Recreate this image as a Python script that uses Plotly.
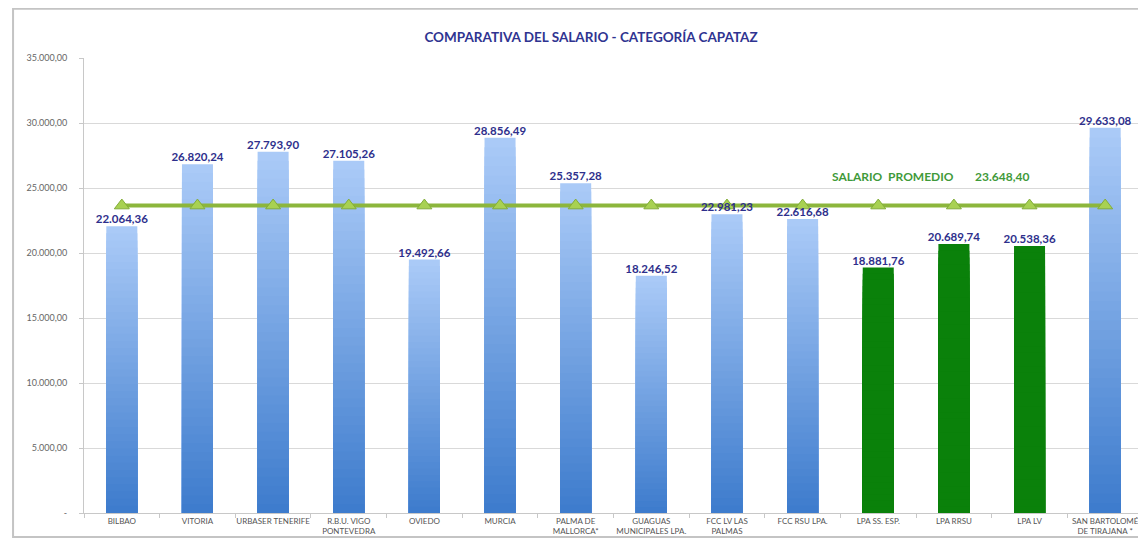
import plotly.graph_objects as go

## Data
categorias = ["BILBAO", "VITORIA", "URBASER TENERIFE", "R.B.U. VIGO<br>PONTEVEDRA", "OVIEDO",
              "MURCIA", "PALMA DE<br>MALLORCA*", "GUAGUAS<br>MUNICIPALES LPA.", "FCC LV LAS<br>PALMAS",
              "FCC RSU LPA.", "LPA SS. ESP.", "LPA RRSU", "LPA LV", "SAN BARTOLOMÉ<br>DE TIRAJANA *"]
salarios = [22064.36, 26820.24, 27793.90, 27105.26, 19492.66, 28856.49, 25357.28,
            18246.52, 22981.23, 22616.68, 18881.76, 20689.74, 20538.36, 29633.08]
destacadas = ["LPA SS. ESP.", "LPA RRSU", "LPA LV"]
promedio = 23648.40
y_ticks = [0, 5000, 10000, 15000, 20000, 25000, 30000, 35000]


def fmt(v):
    # Spanish number format: 23.648,40
    s = f"{v:,.2f}"
    return s.replace(",", "X").replace(".", ",").replace("X", ".")


def mezcla(c1, c2, t):
    r = [round(a + (b - a) * t) for a, b in zip(c1, c2)]
    return f"rgb({r[0]},{r[1]},{r[2]})"


claro = (170, 202, 247)
oscuro = (62, 124, 205)
verde = "#0a810a"

fig = go.Figure()

# gradient bars: overlaid layers, lighter at the top, darker towards the base
N = 40
for k in range(N):
    frac = (N - k) / N
    col = mezcla(claro, oscuro, k / (N - 1))
    colores = [verde if c in destacadas else col for c in categorias]
    fig.add_trace(go.Bar(
        x=categorias, y=[v * frac for v in salarios],
        marker=dict(color=colores, line=dict(width=0)),
        width=0.41, hoverinfo="skip" if k else "y", showlegend=False
    ))

# average line
fig.add_trace(go.Scatter(
    x=categorias, y=[promedio] * len(categorias), mode="lines+markers",
    line=dict(color="#8cb63c", width=4),
    marker=dict(symbol="triangle-up", size=13, color="#a8d152", line=dict(color="#82ad3a", width=1)),
    showlegend=False
))

# value labels above bars (drawn over the line)
fig.add_trace(go.Scatter(
    x=categorias, y=salarios, mode="text", text=[fmt(v) for v in salarios],
    textposition="top center", textfont=dict(family="Lato", size=11.5, color="#2e2f8c", weight="bold"),
    showlegend=False, hoverinfo="skip"
))

fig.add_annotation(x=10.2, y=25850, text="SALARIO  PROMEDIO", showarrow=False,
                   font=dict(family="Lato", size=12, color="#3f9a3a", weight="bold"))
fig.add_annotation(x=11.64, y=25870, text=fmt(promedio), showarrow=False,
                   font=dict(family="Lato", size=12, color="#3f9a3a", weight="bold"))

# frame around the chart
fig.add_shape(type="rect", xref="paper", yref="paper", x0=-0.067, x1=1.08, y0=-0.053, y1=1.108,
              line=dict(color="#c4c4c4", width=2), layer="below")

# the page body adds an 8px offset, so the figure is a bit smaller and margins compensate
W, H = 1138, 530
fig.update_layout(
    title=dict(text="COMPARATIVA DEL SALARIO - CATEGORÍA CAPATAZ", x=583 / W, xanchor="center",
               y=1 - 29 / H, yanchor="middle",
               font=dict(family="Lato", size=13.5, color="#2f3491", weight="bold")),
    barmode="overlay",
    width=W, height=H,
    margin=dict(l=76, r=3, t=50, b=H - 505, autoexpand=False),
    paper_bgcolor="white", plot_bgcolor="white",
    xaxis=dict(range=[-0.5, len(categorias) - 0.5],
               tickfont=dict(family="Lato", size=8, color="#555555"), showline=True,
               linecolor="#c8c8c8", ticks="outside", tickson="boundaries", tickcolor="#c8c8c8",
               ticklen=4, showgrid=False, tickangle=0, automargin=False),
    yaxis=dict(range=[0, 35000], tickvals=y_ticks,
               ticktext=["-" if v == 0 else fmt(v) for v in y_ticks],
               tickfont=dict(family="Lato", size=9, color="#666666"), showgrid=True,
               gridcolor="#d9d9d9", gridwidth=1, showline=True, linecolor="#c8c8c8",
               ticks="outside", tickcolor="#c8c8c8", ticklen=4, ticklabelstandoff=10,
               zeroline=False, automargin=False),
    showlegend=False,
)

fig.write_html("out.html")
